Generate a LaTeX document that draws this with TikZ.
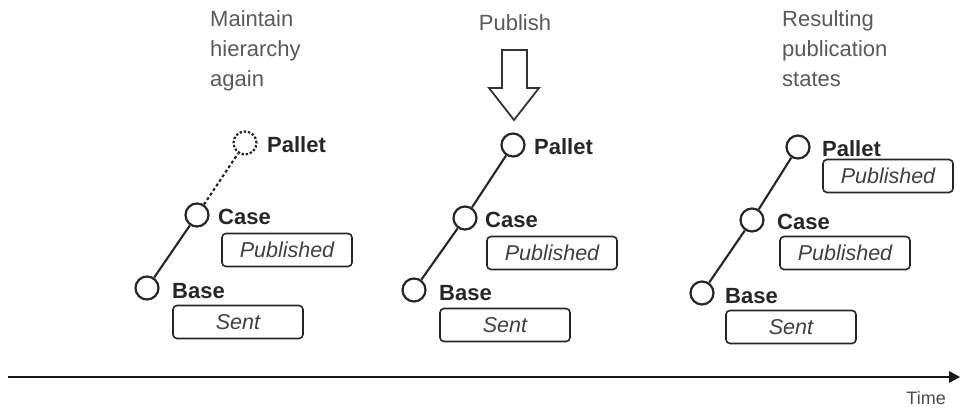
\documentclass[tikz,border=0pt]{standalone}
\usepackage{fontspec}
\setmainfont{Liberation Sans}
\begin{document}
\begin{tikzpicture}[x=1pt,y=-1pt,
  dot/.style={circle,draw=black!85,line width=2.2pt,minimum size=23pt,inner sep=0pt},
  dotdash/.style={dot,dash pattern=on 2.4pt off 1.8pt},
  lbl/.style={anchor=west,inner sep=0pt,font=\fontsize{22}{24}\selectfont\bfseries,text=black!85},
  state/.style={draw=black!85,line width=1.6pt,rounded corners=4pt,minimum width=130pt,minimum height=33pt,inner sep=0pt,font=\fontsize{21.5}{24}\selectfont\itshape,text=black!75},
  title/.style={inner sep=0pt,font=\fontsize{22}{30}\selectfont,text=black!65,align=left},
  link/.style={line width=2.1pt,draw=black!85},
  linkdash/.style={link,dash pattern=on 3pt off 2.5pt}]
\useasboundingbox (0,0) rectangle (962,409);
% titles
\node[title,anchor=north west] (t1) at (210,10) {Maintain\\hierarchy\\again};
\node[title] (t2) at (515,23) {Publish};
\node[title,anchor=north west] (t3) at (782,10) {Resulting\\publication\\states};
% publish arrow
\draw[line width=1.8pt,draw=black!80,fill=white,line join=miter]
  (502,50) -- (527,50) -- (527,88) -- (539,88) -- (514,120) -- (489,88) -- (502,88) -- cycle;
% panel 1
\node[dotdash] (p1) at (245,143) {};
\node[dot] (c1) at (197,215) {};
\node[dot] (b1) at (147,288) {};
\draw[link] (b1) -- (c1);
\draw[linkdash] (c1) -- (p1);
\node[lbl] (lp1) at (267,145) {Pallet};
\node[lbl] (lc1) at (218,217) {Case};
\node[lbl] (lb1) at (172,291) {Base};
\node[state] (s1c) at (287,250) {Published};
\node[state] (s1b) at (238,322) {Sent};
% panel 2
\node[dot] (p2) at (513,145) {};
\node[dot] (c2) at (465,218) {};
\node[dot] (b2) at (414,290) {};
\draw[link] (b2) -- (c2);
\draw[link] (c2) -- (p2);
\node[lbl] (lp2) at (534,147) {Pallet};
\node[lbl] (lc2) at (485,220) {Case};
\node[lbl] (lb2) at (439,293) {Base};
\node[state] (s2c) at (552,253) {Published};
\node[state] (s2b) at (505,325) {Sent};
% panel 3
\node[dot] (p3) at (798,147) {};
\node[dot] (c3) at (752,220) {};
\node[dot] (b3) at (702,293) {};
\draw[link] (b3) -- (c3);
\draw[link] (c3) -- (p3);
\node[lbl] (lp3) at (822,149) {Pallet};
\node[lbl] (lc3) at (777,222) {Case};
\node[lbl] (lb3) at (725,296) {Base};
\node[state] (s3p) at (888,176) {Published};
\node[state] (s3c) at (845,253) {Published};
\node[state] (s3b) at (791,327) {Sent};
% time axis
\coordinate (a0) at (8,377);
\coordinate (a1) at (960,377);
\draw[line width=2pt,draw=black!90] (a0) -- (950,377);
\fill[black!90] (949,371) -- (960,377) -- (949,383) -- cycle;
\node[inner sep=0pt,anchor=east,font=\fontsize{18}{20}\selectfont,text=black!70] (tm) at (946,398) {Time};
\end{tikzpicture}
\end{document}
